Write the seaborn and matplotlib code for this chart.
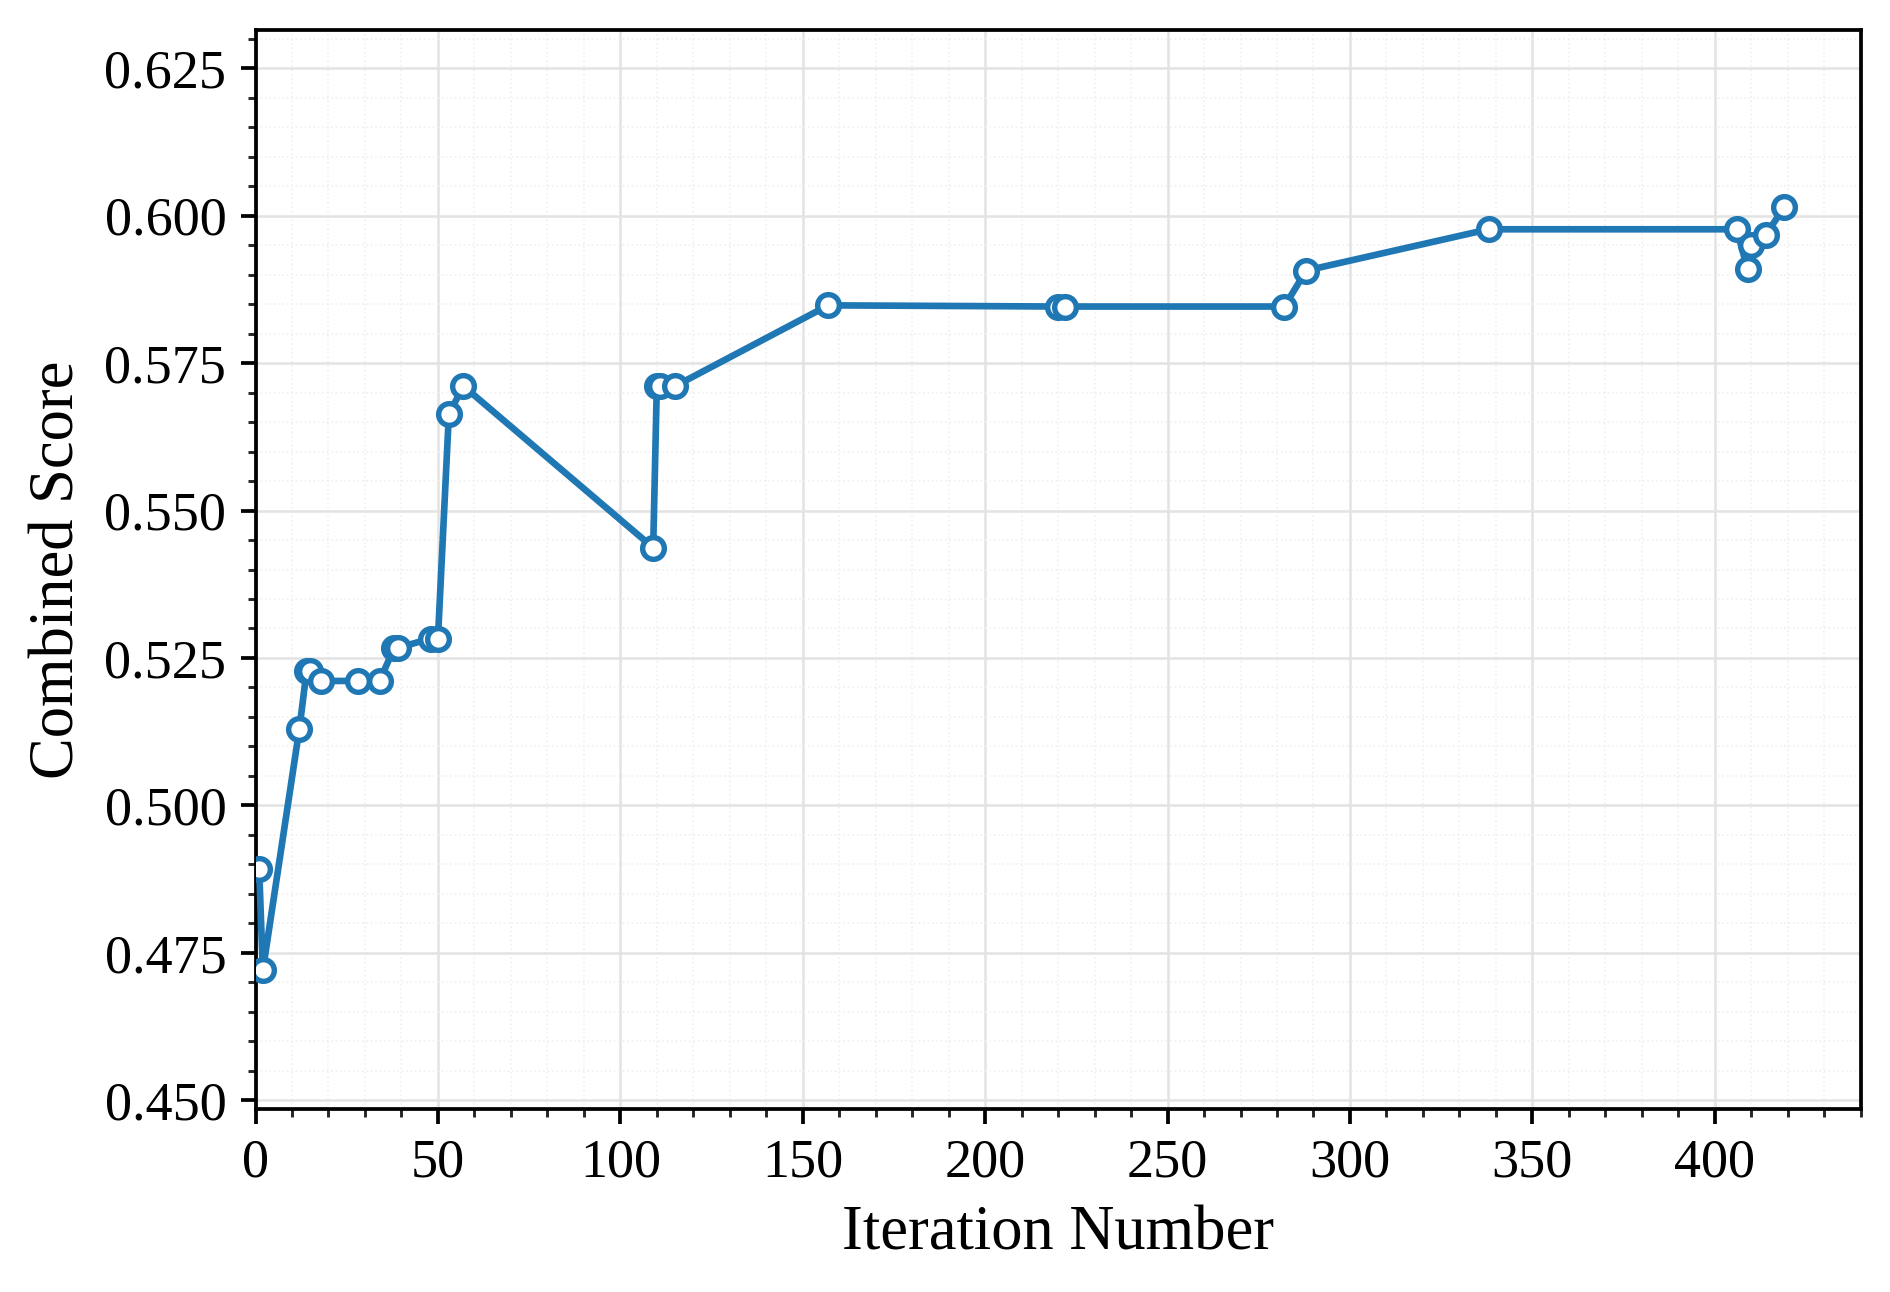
import matplotlib
matplotlib.use('Agg')
import matplotlib.pyplot as plt
from matplotlib.ticker import MultipleLocator
import seaborn as sns
import pandas as pd

# iteration number and combined score
iterations = [1, 2, 12, 14, 15, 18, 28, 34, 38, 39, 48, 50, 53, 57,
              109, 110, 111, 115, 157, 220, 222, 282, 288, 338,
              406, 409, 410, 414, 419]
scores = [0.4892, 0.4720, 0.5129, 0.5228, 0.5228, 0.5211, 0.5211, 0.5211,
          0.5267, 0.5267, 0.5283, 0.5283, 0.5664, 0.5711,
          0.5437, 0.5711, 0.5711, 0.5711, 0.5848, 0.5846, 0.5846, 0.5846,
          0.5907, 0.5977, 0.5977, 0.5909, 0.5950, 0.5968, 0.6014]

df = pd.DataFrame({'Iteration Number': iterations, 'Combined Score': scores})

sns.set_style("ticks")
plt.rcParams['font.family'] = ['Liberation Serif', 'DejaVu Serif']
plt.rcParams['text.color'] = 'black'
plt.rcParams['axes.labelcolor'] = 'black'

fig = plt.figure(figsize=(6.3, 1292 / 300), dpi=300)
ax = fig.add_axes([0.1352, 0.1416, 0.9845 - 0.1352, 0.9768 - 0.1416])

sns.lineplot(data=df, x='Iteration Number', y='Combined Score', ax=ax,
             estimator=None, sort=False, color='#1f77b4', linewidth=1.6,
             marker='o', markersize=5.2, markerfacecolor='white',
             markeredgecolor='#1f77b4', markeredgewidth=1.3, zorder=3)

ax.set_xlim(0, 440)
ax.set_ylim(0.4485, 0.6315)
ax.xaxis.set_major_locator(MultipleLocator(50))
ax.xaxis.set_minor_locator(MultipleLocator(10))
ax.yaxis.set_major_locator(MultipleLocator(0.025))
ax.yaxis.set_minor_locator(MultipleLocator(0.005))
ax.yaxis.set_major_formatter(plt.FormatStrFormatter('%.3f'))

ax.grid(True, which='major', color='#e3e3e3', linewidth=0.6, linestyle='-', zorder=0)
ax.grid(True, which='minor', color='#f0f0f0', linewidth=0.4, linestyle=':', zorder=0)
ax.set_axisbelow(True)

for s in ax.spines.values():
    s.set_visible(True)
    s.set_linewidth(0.9)
    s.set_color('black')

ax.tick_params(axis='both', which='major', direction='out', length=3.5, width=0.9,
               labelsize=13, colors='black')
ax.tick_params(axis='both', which='minor', direction='out', length=2, width=0.7)

ax.set_xlabel('Iteration Number', fontsize=15, color='black')
ax.set_ylabel('Combined Score', fontsize=15, color='black')

plt.savefig('out.png', dpi=300)
plt.close()
